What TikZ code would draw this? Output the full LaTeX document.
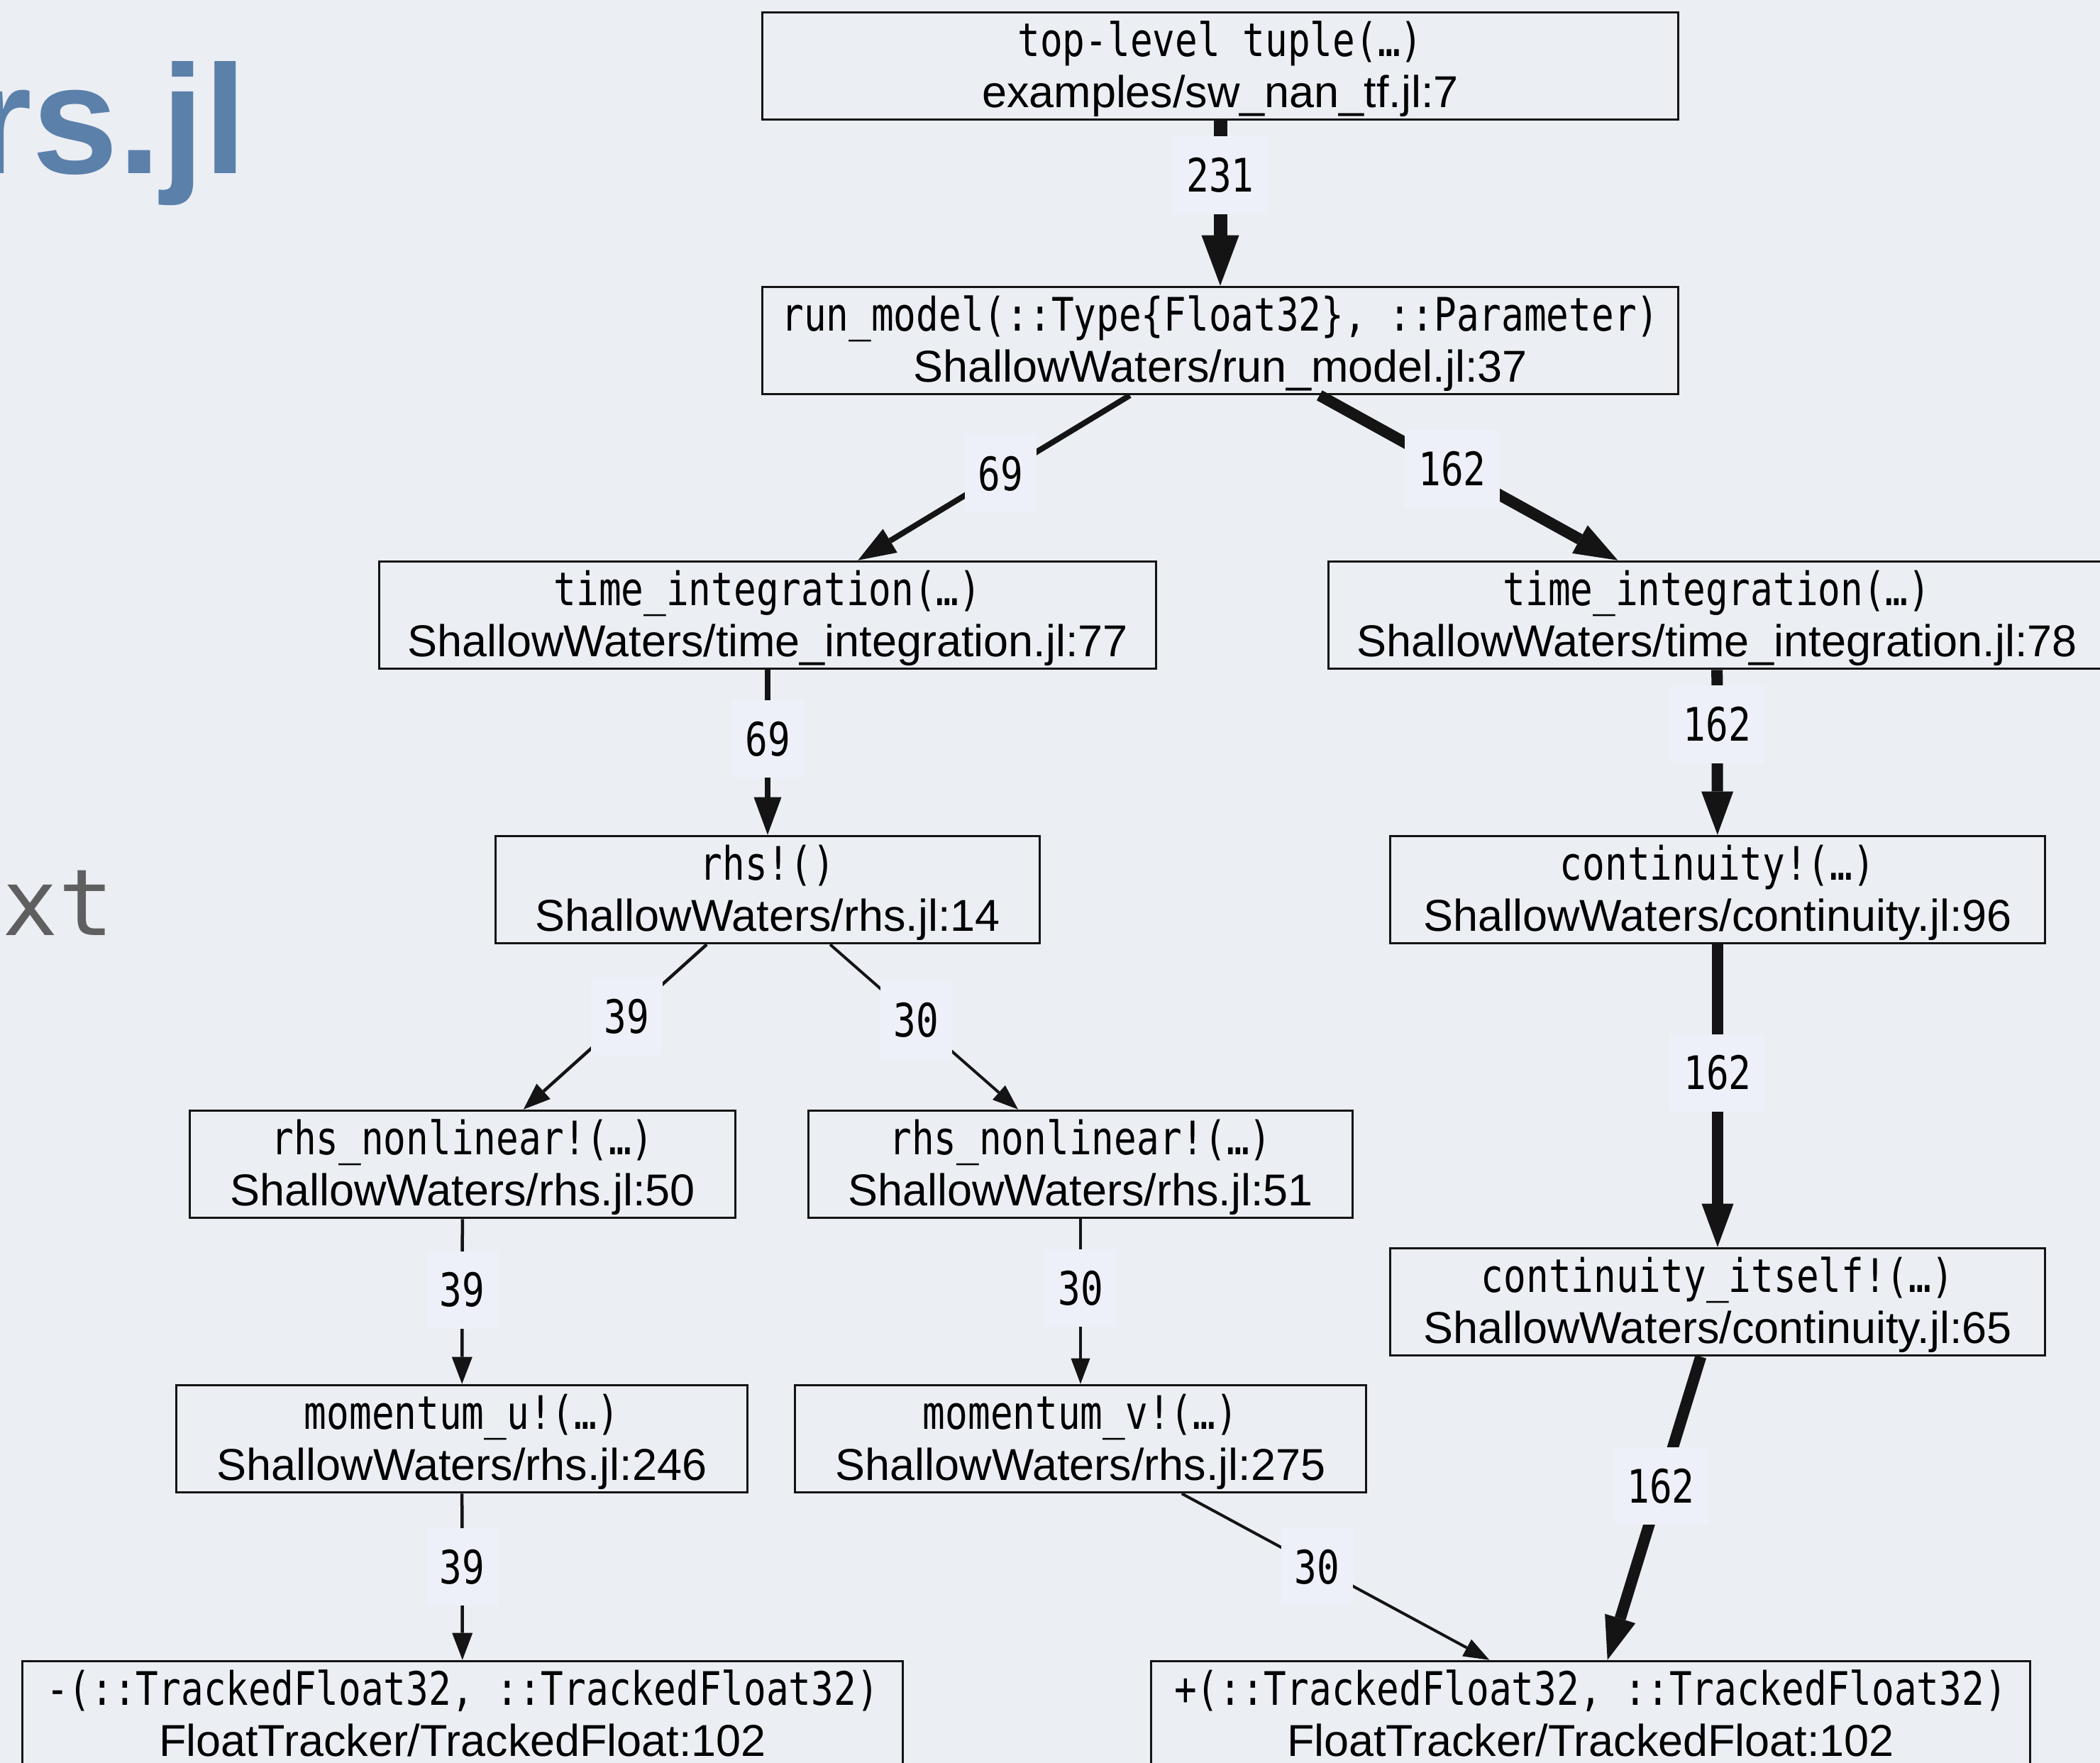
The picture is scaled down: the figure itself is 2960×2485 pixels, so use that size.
\documentclass[tikz,border=0pt]{standalone}
\usepackage{fontspec}
\setmainfont{Liberation Sans}
\newfontfamily\codefont[FakeStretch=0.81]{DejaVu Sans Mono}
\newfontfamily\slidemono{DejaVu Sans Mono}
\usetikzlibrary{arrows.meta}

\definecolor{bg}{HTML}{EBEEF3}
\definecolor{lblbg}{HTML}{EDF0F8}
\definecolor{ink}{HTML}{141414}
\definecolor{titleblue}{HTML}{5B80AA}
\definecolor{slidegray}{HTML}{5F5F5F}

% first line of a call node: the function signature in a narrow mono face
\newcommand\callsig[1]{{\codefont\fontsize{18.5pt}{20.5pt}\selectfont\rule{0pt}{17.6pt}#1}}
% second line of a call node: source file and line
\newcommand\callsrc[1]{#1\rule[-5pt]{0pt}{5pt}}

\tikzset{
  call/.style={draw=ink, line width=0.03cm, align=center, inner sep=0pt,
    minimum height=1.49cm, text=black,
    font=\fontsize{17.9pt}{20.5pt}\selectfont},
  cnt/.style={fill=lblbg, inner xsep=0.19cm, inner ysep=0pt,
    minimum height=1.09cm, text=black,
    font=\codefont\fontsize{18.5pt}{20.5pt}\selectfont},
  flow/.style={draw=ink, line cap=butt},
  w231/.style={flow, line width=0.19cm,
    -{Triangle[length=0.71cm,width=0.53cm,line width=0pt]}},
  w162/.style={flow, line width=0.16cm,
    -{Triangle[length=0.61cm,width=0.45cm,line width=0pt]}},
  w69/.style={flow, line width=0.08cm,
    -{Triangle[length=0.53cm,width=0.39cm,line width=0pt]}},
  w39/.style={flow, line width=0.045cm,
    -{Triangle[length=0.38cm,width=0.29cm,line width=0pt]}},
  w30/.style={flow, line width=0.04cm,
    -{Triangle[length=0.36cm,width=0.27cm,line width=0pt]}},
}

\begin{document}
\begin{tikzpicture}[x=0.01cm, y=-0.01cm]
  % slide background
  \fill[bg] (0,0) rectangle (2960,2485);
  \useasboundingbox (0,0) rectangle (2960,2485);

  % slide text at the left margin
  \node[anchor=base west, inner sep=0pt, text=titleblue,
        font=\bfseries\fontsize{62pt}{62pt}\selectfont] (title) at (-40,245) {rs.jl};
  \node[anchor=base west, inner sep=0pt, text=slidegray,
        font=\slidemono\fontsize{37pt}{37pt}\selectfont] (subtitle) at (3,1318) {xt};

  % call graph nodes
  \node[call, minimum width=12.91cm] (top) at (1720,93)
    {\callsig{top-level tuple(…)}\\\callsrc{examples/sw\_nan\_tf.jl:7}};
  \node[call, minimum width=12.91cm] (run) at (1720,480)
    {\callsig{run\_model(::Type\{Float32\}, ::Parameter)}\\\callsrc{ShallowWaters/run\_model.jl:37}};
  \node[call, minimum width=10.95cm] (tiA) at (1082,867)
    {\callsig{time\_integration(…)}\\\callsrc{ShallowWaters/time\_integration.jl:77}};
  \node[call, minimum width=10.95cm] (tiB) at (2420,867)
    {\callsig{time\_integration(…)}\\\callsrc{ShallowWaters/time\_integration.jl:78}};
  \node[call, minimum width=7.67cm] (rhs) at (1082,1254)
    {\callsig{rhs!()}\\\callsrc{ShallowWaters/rhs.jl:14}};
  \node[call, minimum width=9.23cm] (cont) at (2421,1254)
    {\callsig{continuity!(…)}\\\callsrc{ShallowWaters/continuity.jl:96}};
  \node[call, minimum width=7.68cm] (nlA) at (652,1641)
    {\callsig{rhs\_nonlinear!(…)}\\\callsrc{ShallowWaters/rhs.jl:50}};
  \node[call, minimum width=7.67cm] (nlB) at (1523,1641)
    {\callsig{rhs\_nonlinear!(…)}\\\callsrc{ShallowWaters/rhs.jl:51}};
  \node[call, minimum width=9.23cm] (cself) at (2421,1835)
    {\callsig{continuity\_itself!(…)}\\\callsrc{ShallowWaters/continuity.jl:65}};
  \node[call, minimum width=8.04cm] (momu) at (651,2028)
    {\callsig{momentum\_u!(…)}\\\callsrc{ShallowWaters/rhs.jl:246}};
  \node[call, minimum width=8.05cm] (momv) at (1523,2028)
    {\callsig{momentum\_v!(…)}\\\callsrc{ShallowWaters/rhs.jl:275}};
  \node[call, minimum width=12.40cm] (minus) at (652,2417)
    {\callsig{-(::TrackedFloat32, ::TrackedFloat32)}\\\callsrc{FloatTracker/TrackedFloat:102}};
  \node[call, minimum width=12.39cm] (plus) at (2242,2417)
    {\callsig{+(::TrackedFloat32, ::TrackedFloat32)}\\\callsrc{FloatTracker/TrackedFloat:102}};

  % calls, weighted by sample count
  \draw[w231] (top) -- node[cnt, pos=0.33] {231} (run);
  \draw[w69]  (run) -- node[cnt, pos=0.475] {69} (tiA);
  \draw[w162] (run) -- node[cnt, pos=0.445] {162} (tiB);
  \draw[w69]  (tiA) -- node[cnt, pos=0.42] {69} (rhs);
  \draw[w162] (tiB) -- node[cnt, pos=0.33] {162} (cont);
  \draw[w39]  (rhs) -- node[cnt, pos=0.437] {39} (nlA);
  \draw[w30]  (rhs) -- node[cnt, pos=0.458] {30} (nlB);
  \draw[w162] (cont) -- node[cnt, pos=0.424] {162} (cself);
  \draw[w39]  (nlA) -- node[cnt, pos=0.43] {39} (momu);
  \draw[w30]  (nlB) -- node[cnt, pos=0.42] {30} (momv);
  \draw[w39]  (momu) -- node[cnt, pos=0.44] {39} (minus);
  \draw[w30]  (momv) -- node[cnt, pos=0.44] {30} (plus);
  \draw[w162] (cself) -- node[cnt, pos=0.427] {162} (plus);
\end{tikzpicture}
\end{document}
